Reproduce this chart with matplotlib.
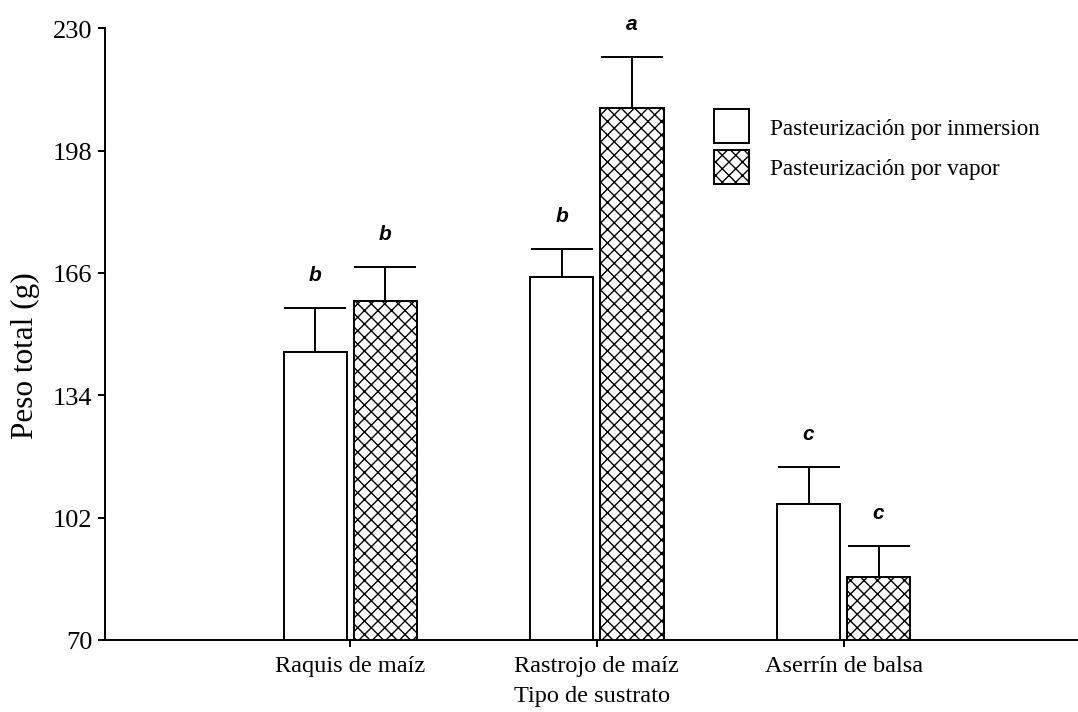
import numpy as np
import matplotlib
matplotlib.use("Agg")
import matplotlib.pyplot as plt

# data
sustratos = ["Raquis de maíz", "Rastrojo de maíz", "Aserrín de balsa"]
inmersion = [145.3, 165.0, 105.6]
inmersion_err = [11.5, 7.3, 9.6]
vapor = [158.8, 209.2, 86.5]
vapor_err = [8.8, 13.3, 8.1]
letras_inm = ["b", "b", "c"]
letras_vap = ["b", "a", "c"]
yticks = [70, 102, 134, 166, 198, 230]

# low dpi so the cross hatch comes out as fine as in the original
DPI = 81
S = 100 / DPI  # sizes below are tuned for 100 dpi

plt.rcParams['font.family'] = ['Liberation Serif', 'DejaVu Serif']
plt.rcParams['hatch.linewidth'] = 1.0 * S

fig = plt.figure(figsize=(1078 / DPI, 713 / DPI), dpi=DPI)
ax = fig.add_axes([105/1078, 72/713, 973/1078, 611.7/713])

x = np.arange(len(sustratos))
w = 0.256
off = 0.142
lw = 1.4 * S

ax.bar(x - off, inmersion, w, color='white', edgecolor='black', linewidth=lw,
       label='Pasteurización por inmersion', zorder=2)
ax.bar(x + off, vapor, w, color='white', edgecolor='black', linewidth=lw,
       hatch='xx', label='Pasteurización por vapor', zorder=2)

cap = 22.5 * S
ax.errorbar(x - off, inmersion, yerr=[np.zeros(3), inmersion_err], fmt='none',
            ecolor='black', elinewidth=lw, capsize=cap, capthick=lw, zorder=1)
ax.errorbar(x + off, vapor, yerr=[np.zeros(3), vapor_err], fmt='none',
            ecolor='black', elinewidth=lw, capsize=cap, capthick=lw, zorder=1)

for xi, v, e, l in zip(x - off, inmersion, inmersion_err, letras_inm):
    ax.annotate(l, (xi, v + e), xytext=(0, 24 * S), textcoords='offset points',
                ha='center', va='center', fontsize=15 * S, fontweight='bold',
                fontstyle='italic', family='Liberation Sans')
for xi, v, e, l in zip(x + off, vapor, vapor_err, letras_vap):
    ax.annotate(l, (xi, v + e), xytext=(0, 24 * S), textcoords='offset points',
                ha='center', va='center', fontsize=15 * S, fontweight='bold',
                fontstyle='italic', family='Liberation Sans')

ax.set_ylim(70, 230)
ax.set_xlim(-0.994, 2.95)
ax.set_yticks(yticks)
ax.set_xticks(x)
ax.set_xticklabels(sustratos)
ax.tick_params(axis='both', length=5 * S, width=lw, direction='out')
ax.tick_params(axis='x', labelsize=17.5 * S, pad=6 * S)
ax.tick_params(axis='y', labelsize=19 * S, pad=4 * S)
ax.spines['top'].set_visible(False)
ax.spines['right'].set_visible(False)
ax.spines['left'].set_linewidth(lw)
ax.spines['bottom'].set_linewidth(lw)

ax.set_ylabel('Peso total (g)', fontsize=22.5 * S, va='center')
ax.yaxis.set_label_coords(-0.082, 0.466)
ax.set_xlabel('Tipo de sustrato', fontsize=17.5 * S, labelpad=6 * S)

ax.legend(loc='upper left', bbox_to_anchor=(714/1078, 1 - 110/713),
          bbox_transform=fig.transFigure, frameon=False, fontsize=16.7 * S,
          handlelength=1.51, handleheight=1.9, labelspacing=0.28,
          handletextpad=0.9, borderpad=0, borderaxespad=0)

fig.savefig('out.png', dpi=DPI)
